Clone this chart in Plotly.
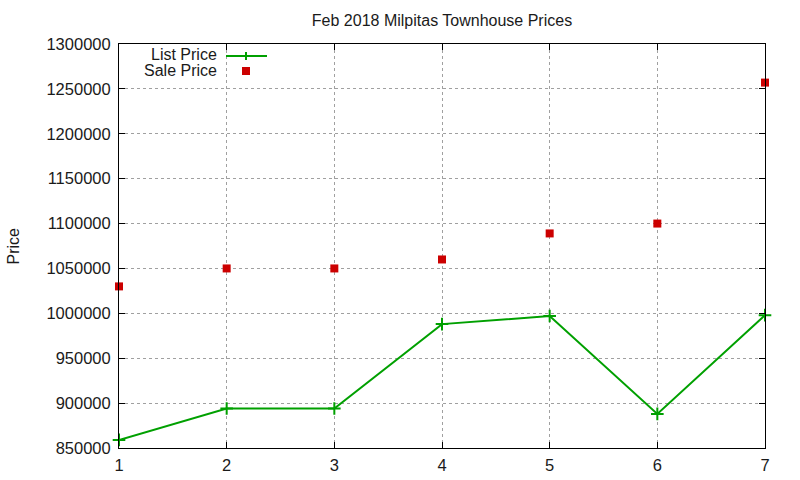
import plotly.graph_objects as go

days = [1, 2, 3, 4, 5, 6, 7]
list_price = [859000, 894000, 894000, 988000, 997000, 888000, 998000]
sale_price = [1030000, 1050000, 1050000, 1060000, 1089000, 1100000, 1257000]
y_ticks = list(range(850000, 1300001, 50000))

GREEN = "#00a000"
RED = "#cc0000"
FONT = "Liberation Sans, Arial, sans-serif"
TXT = "#1a1a1a"

fig = go.Figure()
fig.add_trace(go.Scatter(x=days, y=list_price, mode="lines+markers", name="List Price",
                         line=dict(color=GREEN, width=2),
                         marker=dict(symbol="cross-thin-open", size=9,
                                     line=dict(color=GREEN, width=2)),
                         cliponaxis=False, showlegend=False))
fig.add_trace(go.Scatter(x=days, y=sale_price, mode="markers", name="Sale Price",
                         marker=dict(symbol="square", size=8, color=RED),
                         cliponaxis=False, showlegend=False))

L, R, T, B = 119, 35, 44, 32
W, H = 800, 480
pw, ph = W - L - R, H - T - B

def px(x):
    return (x - L) / pw

def py(y):
    return (H - B - y) / ph

# manual legend (gnuplot style: text right-aligned, sample on the right)
fig.add_annotation(x=px(218), y=py(54.5), xref="paper", yref="paper", text="List Price",
                   showarrow=False, xanchor="right", yanchor="middle", borderpad=0,
                   font=dict(family=FONT, size=16, color=TXT))
fig.add_annotation(x=px(218), y=py(70.5), xref="paper", yref="paper", text="Sale Price",
                   showarrow=False, xanchor="right", yanchor="middle", borderpad=0,
                   font=dict(family=FONT, size=16, color=TXT))
fig.add_shape(type="line", xref="paper", yref="paper", x0=px(226), x1=px(267),
              y0=py(56), y1=py(56), line=dict(color=GREEN, width=2))
fig.add_shape(type="line", xref="paper", yref="paper", x0=px(246), x1=px(246),
              y0=py(52), y1=py(60), line=dict(color=GREEN, width=2))
fig.add_shape(type="rect", xref="paper", yref="paper", x0=px(242), x1=px(250),
              y0=py(67), y1=py(75), line=dict(width=0), fillcolor=RED)

# y-axis title
fig.add_annotation(x=px(12.5), y=py(246), xref="paper", yref="paper", text="Price",
                   showarrow=False, textangle=-90, xanchor="center", yanchor="middle",
                   font=dict(family=FONT, size=16, color=TXT))

axis_common = dict(showgrid=True, gridcolor="#a0a0a0", griddash="dot", gridwidth=1,
                   showline=True, linecolor="#000", linewidth=1, mirror="ticks",
                   ticks="inside", ticklen=6, tickcolor="#000", zeroline=False,
                   automargin=False,
                   tickfont=dict(family=FONT, size=16.5, color=TXT))

fig.update_layout(
    width=W, height=H,
    margin=dict(l=L, r=R, t=T, b=B, autoexpand=False),
    paper_bgcolor="white", plot_bgcolor="white",
    title=dict(text="Feb 2018 Milpitas Townhouse Prices", x=(L + pw / 2) / W, xanchor="center",
               y=1 - 20 / H, yanchor="middle",
               font=dict(family=FONT, size=16, color=TXT)),
    xaxis=dict(range=[1, 7], tickvals=days, ticktext=[str(d) for d in days],
               ticklabelstandoff=2, **axis_common),
    yaxis=dict(range=[850000, 1300000], tickvals=y_ticks,
               ticktext=[str(v) for v in y_ticks], ticklabelstandoff=4,
               **axis_common),
    showlegend=False,
)

fig.write_html("out.html")
